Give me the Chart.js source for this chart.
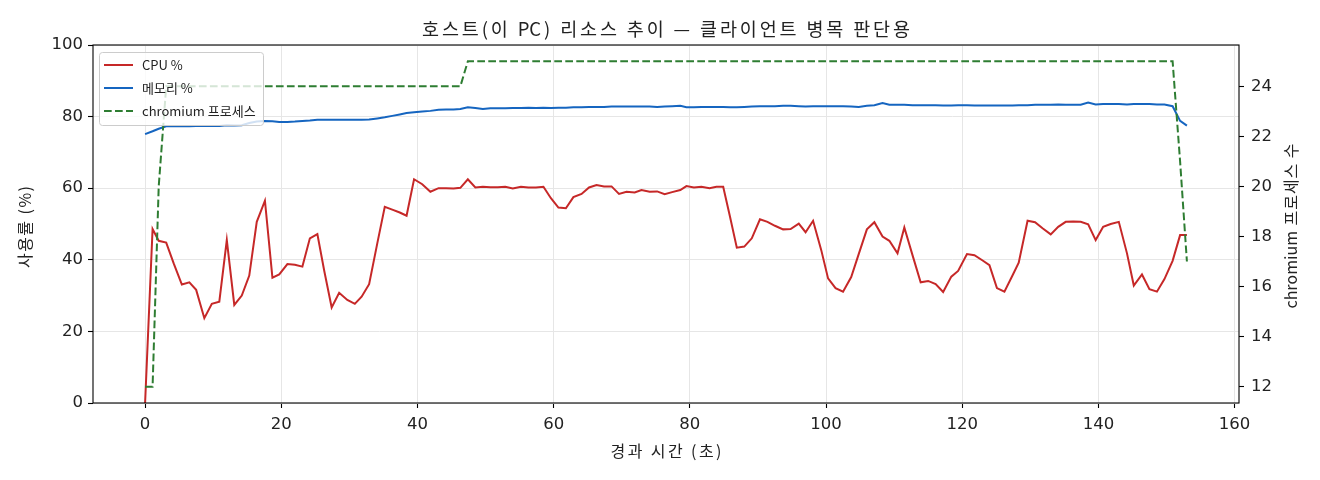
<!DOCTYPE html>
<html><head><meta charset="utf-8">
<script src="https://cdn.jsdelivr.net/npm/chart.js@4.4.1/dist/chart.umd.min.js"></script>
<style>html,body{margin:0;padding:0;background:#fff}#wrap{width:1320px;height:480px}</style>
</head><body><div id="wrap"><canvas id="c" width="1320" height="480"></canvas></div>
<script>
const FONT = '"Noto Sans CJK KR", "Noto Sans", sans-serif';
const TICK_FONT = '"DejaVu Sans", "Noto Sans CJK KR", sans-serif';
const titleText = '호스트(이 PC) 리소스 추이 — 클라이언트 병목 판단용';
const xLabel = '경과 시간 (초)';
const yLabel = '사용률 (%)';
const y2Label = 'chromium 프로세스 수';
const seriesNames = ['CPU %', '메모리 %', 'chromium 프로세스'];
const xTicks = [0, 20, 40, 60, 80, 100, 120, 140, 160];
const yTicks = [0, 20, 40, 60, 80, 100];
const y2Ticks = [12, 14, 16, 18, 20, 22, 24];

const times = [
  0.0, 1.1, 2.0, 3.1, 4.2, 5.4, 6.5, 7.5, 8.7, 9.8,
  10.9, 12.0, 13.1, 14.2, 15.3, 16.4, 17.6, 18.7, 19.7, 20.9,
  22.0, 23.1, 24.2, 25.3, 26.3, 27.4, 28.5, 29.7, 30.8, 31.8,
  32.9, 34.1, 35.2, 36.3, 37.4, 38.4, 39.5, 40.7, 41.9, 43.1,
  44.2, 45.3, 46.3, 47.4, 48.5, 49.6, 50.7, 51.8, 52.9, 54.0,
  55.2, 56.3, 57.4, 58.5, 59.6, 60.7, 61.8, 62.9, 64.1, 65.2,
  66.3, 67.4, 68.5, 69.6, 70.7, 71.9, 72.9, 74.1, 75.2, 76.3,
  77.4, 78.6, 79.5, 80.6, 81.7, 82.9, 83.9, 84.9, 85.9, 86.9,
  88.0, 89.1, 90.3, 91.4, 92.5, 93.7, 94.8, 96.0, 97.0, 98.1,
  99.3, 100.3, 101.4, 102.5, 103.7, 104.8, 106.0, 107.1, 108.3, 109.3,
  110.5, 111.5, 112.7, 113.9, 115.0, 116.1, 117.2, 118.4, 119.4, 120.7,
  121.8, 123.0, 124.0, 125.1, 126.2, 127.4, 128.3, 129.6, 130.7, 131.8,
  133.0, 134.1, 135.2, 136.3, 137.4, 138.5, 139.6, 140.7, 141.8, 143.0,
  144.2, 145.2, 146.4, 147.5, 148.6, 149.7, 150.9, 152.0, 153.0
];
const cpu = [
  0, 48.6, 45.3, 44.8, 39.0, 33.1, 33.7, 31.6, 23.7, 27.7,
  28.3, 45.5, 27.4, 30.0, 35.6, 50.6, 56.5, 35.0, 35.9, 38.8,
  38.6, 38.1, 46.0, 47.2, 37.0, 26.7, 30.8, 28.8, 27.7, 29.7,
  33.2, 44.6, 54.8, 54.0, 53.2, 52.3, 62.5, 61.1, 59.0, 60.0,
  60.0, 59.9, 60.1, 62.5, 60.2, 60.4, 60.3, 60.3, 60.4, 59.9,
  60.4, 60.2, 60.2, 60.4, 57.2, 54.6, 54.4, 57.5, 58.4, 60.2,
  60.9, 60.5, 60.5, 58.4, 59.0, 58.8, 59.5, 59.0, 59.1, 58.3,
  58.9, 59.5, 60.6, 60.2, 60.4, 60.0, 60.4, 60.4, 52.0, 43.4,
  43.7, 46.0, 51.3, 50.6, 49.5, 48.5, 48.6, 50.1, 47.7, 50.9,
  42.7, 34.8, 32.1, 31.1, 35.2, 41.6, 48.5, 50.5, 46.5, 45.3,
  41.8, 49.0, 41.3, 33.7, 34.1, 33.2, 31.0, 35.3, 36.9, 41.6,
  41.3, 39.8, 38.5, 32.1, 31.1, 35.7, 39.2, 50.9, 50.5, 48.8,
  47.1, 49.2, 50.6, 50.7, 50.6, 49.9, 45.5, 49.2, 50.0, 50.6,
  41.8, 32.8, 35.9, 31.8, 31.1, 34.6, 39.7, 46.9, 46.9
];
const mem = [
  75.1, 75.9, 76.6, 77.3, 77.4, 77.3, 77.3, 77.4, 77.4, 77.4,
  77.4, 77.6, 77.5, 77.6, 78.2, 78.6, 78.8, 78.7, 78.5, 78.5,
  78.6, 78.8, 78.9, 79.1, 79.1, 79.1, 79.1, 79.1, 79.1, 79.1,
  79.2, 79.5, 79.8, 80.2, 80.6, 81.0, 81.2, 81.4, 81.6, 81.9,
  82.0, 82.0, 82.1, 82.6, 82.4, 82.1, 82.3, 82.3, 82.3, 82.4,
  82.4, 82.5, 82.4, 82.5, 82.4, 82.5, 82.5, 82.6, 82.6, 82.7,
  82.7, 82.7, 82.8, 82.8, 82.8, 82.8, 82.8, 82.8, 82.7, 82.8,
  82.9, 83.0, 82.6, 82.6, 82.7, 82.7, 82.7, 82.7, 82.6, 82.6,
  82.7, 82.8, 82.9, 82.9, 82.9, 83.0, 83.0, 82.9, 82.8, 82.9,
  82.9, 82.9, 82.9, 82.9, 82.8, 82.7, 83.0, 83.2, 83.8, 83.3,
  83.3, 83.3, 83.2, 83.2, 83.2, 83.2, 83.1, 83.1, 83.2, 83.2,
  83.1, 83.1, 83.1, 83.1, 83.1, 83.1, 83.2, 83.2, 83.3, 83.3,
  83.3, 83.4, 83.3, 83.3, 83.3, 83.9, 83.4, 83.5, 83.5, 83.5,
  83.4, 83.5, 83.5, 83.5, 83.4, 83.4, 82.9, 78.8, 77.5
];
const procs = [
  12, 12, 20, 24, 24, 24, 24, 24, 24, 24,
  24, 24, 24, 24, 24, 24, 24, 24, 24, 24,
  24, 24, 24, 24, 24, 24, 24, 24, 24, 24,
  24, 24, 24, 24, 24, 24, 24, 24, 24, 24,
  24, 24, 24, 25, 25, 25, 25, 25, 25, 25,
  25, 25, 25, 25, 25, 25, 25, 25, 25, 25,
  25, 25, 25, 25, 25, 25, 25, 25, 25, 25,
  25, 25, 25, 25, 25, 25, 25, 25, 25, 25,
  25, 25, 25, 25, 25, 25, 25, 25, 25, 25,
  25, 25, 25, 25, 25, 25, 25, 25, 25, 25,
  25, 25, 25, 25, 25, 25, 25, 25, 25, 25,
  25, 25, 25, 25, 25, 25, 25, 25, 25, 25,
  25, 25, 25, 25, 25, 25, 25, 25, 25, 25,
  25, 25, 25, 25, 25, 25, 25, 21, 17
];

const COLORS = { cpu: '#c62828', mem: '#1565c0', procs: '#2e7d32' };
const DASH = [7.7, 3.3];
const TEXT = '#222222';

const pts = (ys) => times.map((t, i) => ({ x: t, y: ys[i] }));

function roundRect(ctx, x, y, w, h, r) {
  ctx.beginPath();
  ctx.moveTo(x + r, y);
  ctx.arcTo(x + w, y, x + w, y + h, r);
  ctx.arcTo(x + w, y + h, x, y + h, r);
  ctx.arcTo(x, y + h, x, y, r);
  ctx.arcTo(x, y, x + w, y, r);
  ctx.closePath();
}

const isLatin = (ch) => /[A-Za-z]/.test(ch);

// draws text centred on (cx, cy), spread to the width of the wider Korean face of the
// original; Latin letter pairs keep their natural spacing
function drawSpread(ctx, text, font, cx, cy, width, rot) {
  ctx.save();
  ctx.translate(cx, cy);
  if (rot) ctx.rotate(rot);
  ctx.font = font;
  ctx.fillStyle = TEXT;
  ctx.textBaseline = 'middle';
  ctx.textAlign = 'left';
  const chars = Array.from(text);
  const widths = chars.map(c => ctx.measureText(c).width);
  const w0 = widths.reduce((s, w) => s + w, 0);
  const gapAfter = chars.map((c, i) => i < chars.length - 1 && !(isLatin(c) && isLatin(chars[i + 1])));
  const gaps = gapAfter.filter(Boolean).length;
  const L = gaps > 0 ? Math.max(0, (width - w0) / gaps) : 0;
  const total = w0 + L * gaps;
  let x = -total / 2;
  chars.forEach((c, i) => {
    ctx.fillText(c, x, 0);
    x += widths[i] + (gapAfter[i] ? L : 0);
  });
  ctx.restore();
}

const extras = {
  id: 'extras',
  afterDatasetsDraw(chart) {
    const { ctx, chartArea: a } = chart;
    ctx.save();
    // axes frame
    ctx.strokeStyle = '#000';
    ctx.lineWidth = 1.1;
    ctx.strokeRect(a.left, a.top, a.right - a.left, a.bottom - a.top);
    // legend
    const lx = a.left + 6, ly = a.top + 7, lw = 164, lh = 73;
    roundRect(ctx, lx + 0.5, ly + 0.5, lw, lh, 3);
    ctx.fillStyle = 'rgba(255,255,255,0.8)';
    ctx.fill();
    ctx.strokeStyle = '#cccccc';
    ctx.lineWidth = 1;
    ctx.stroke();
    ctx.font = '13px ' + FONT;
    ctx.textBaseline = 'middle';
    ctx.textAlign = 'left';
    chart.data.datasets.forEach((ds, i) => {
      const y = ly + 13 + i * 23;
      ctx.beginPath();
      ctx.strokeStyle = ds.borderColor;
      ctx.lineWidth = ds.borderWidth;
      ctx.setLineDash(ds.borderDash || []);
      ctx.moveTo(lx + 5, y);
      ctx.lineTo(lx + 34, y);
      ctx.stroke();
      ctx.setLineDash([]);
      ctx.fillStyle = TEXT;
      ctx.fillText(ds.label, lx + 43, y);
    });
    ctx.restore();
    const cx = (a.left + a.right) / 2, cy = (a.top + a.bottom) / 2;
    drawSpread(ctx, titleText, '18.5px ' + FONT, cx, 29, 488, 0);
    drawSpread(ctx, xLabel, '16px ' + FONT, cx, 451, 111, 0);
    drawSpread(ctx, yLabel, '16px ' + FONT, 25, cy + 3, 82, -Math.PI / 2);
    drawSpread(ctx, y2Label, '16px ' + FONT, 1291, cy + 2, 165, -Math.PI / 2);
  }
};

const tickFont = { family: TICK_FONT, size: 16.5 };
const setTicks = (arr) => (s) => { s.ticks = arr.map(v => ({ value: v })); };

new Chart(document.getElementById('c'), {
  type: 'line',
  data: {
    datasets: [
      { label: seriesNames[0], data: pts(cpu), borderColor: COLORS.cpu, borderWidth: 2, yAxisID: 'y', order: 2 },
      { label: seriesNames[1], data: pts(mem), borderColor: COLORS.mem, borderWidth: 2, yAxisID: 'y', order: 1 },
      { label: seriesNames[2], data: pts(procs), borderColor: COLORS.procs, borderWidth: 2, borderDash: DASH, yAxisID: 'y1', order: 0 }
    ]
  },
  options: {
    responsive: false,
    animation: false,
    devicePixelRatio: 1,
    layout: { padding: { top: 45, left: 0, right: 0, bottom: 0 }, autoPadding: false },
    elements: { point: { radius: 0 }, line: { tension: 0, fill: false } },
    plugins: {
      legend: { display: false },
      tooltip: { enabled: false },
      title: { display: false }
    },
    scales: {
      x: {
        type: 'linear', min: -7.65, max: 160.65,
        afterBuildTicks: setTicks(xTicks),
        afterFit: (s) => { s.height = 77; },
        grid: { color: '#e6e6e6', tickColor: '#000', tickLength: 5, tickWidth: 1.1 },
        border: { display: false },
        ticks: { font: tickFont, color: TEXT, padding: 7, maxRotation: 0 }
      },
      y: {
        type: 'linear', position: 'left', min: 0, max: 100,
        afterBuildTicks: setTicks(yTicks),
        afterFit: (s) => { s.width = 93; },
        grid: { color: '#e6e6e6', tickColor: '#000', tickLength: 5, tickWidth: 1.1 },
        border: { display: false },
        ticks: { font: tickFont, color: TEXT, padding: 5 }
      },
      y1: {
        type: 'linear', position: 'right', min: 11.35, max: 25.65,
        afterBuildTicks: setTicks(y2Ticks),
        afterFit: (s) => { s.width = 81; },
        grid: { drawOnChartArea: false, tickColor: '#000', tickLength: 5, tickWidth: 1.1 },
        border: { display: false },
        ticks: { font: tickFont, color: TEXT, padding: 7 }
      }
    }
  },
  plugins: [extras]
});
</script>
</body></html>
